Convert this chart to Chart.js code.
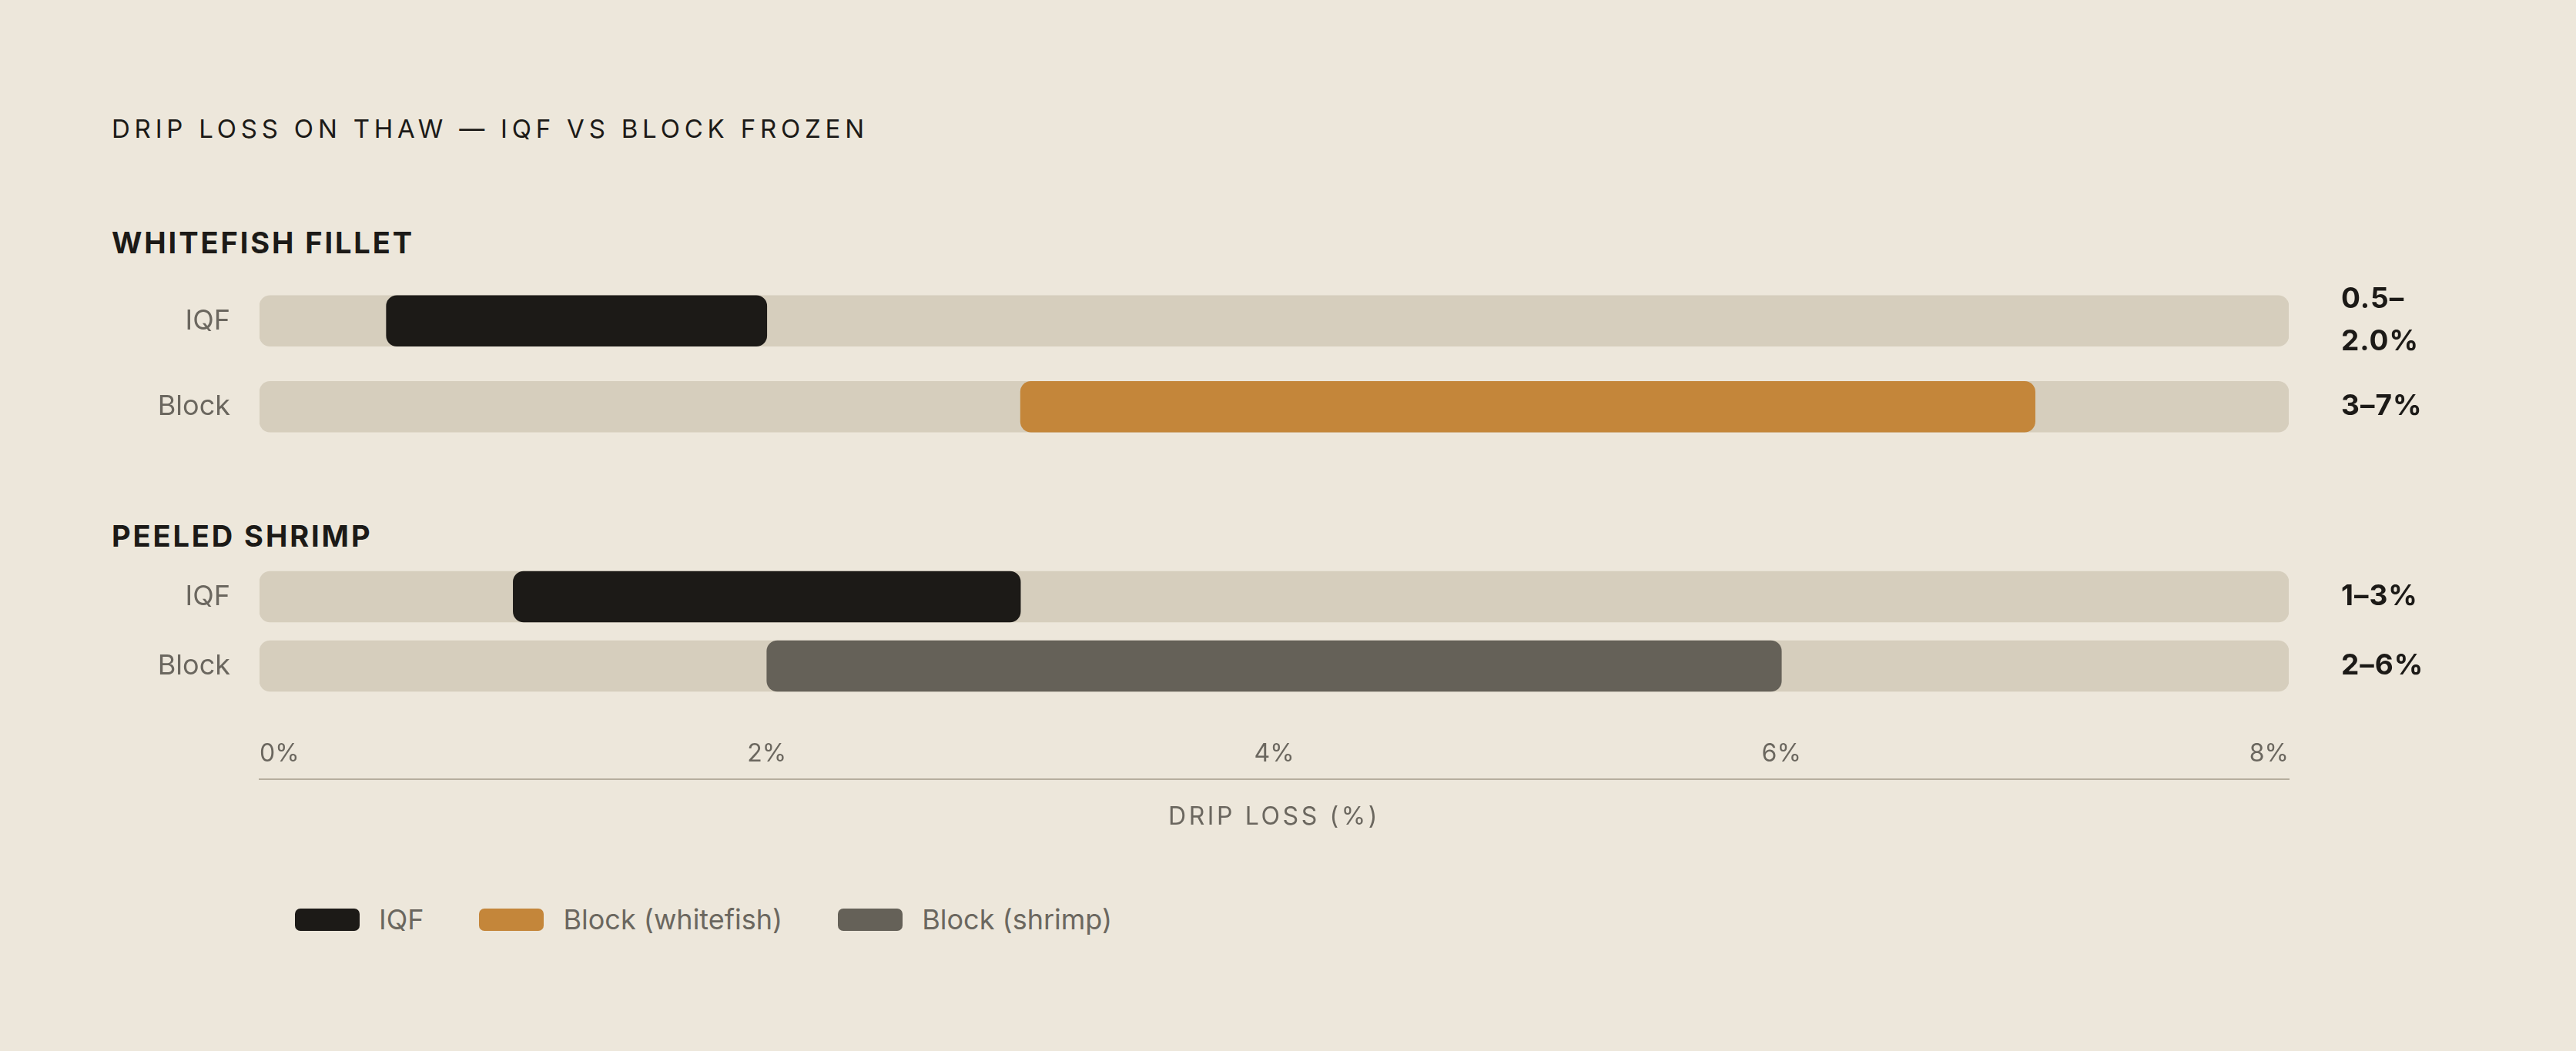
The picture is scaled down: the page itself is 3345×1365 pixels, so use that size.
<!DOCTYPE html>
<html>
<head>
<meta charset="utf-8">
<script src="https://cdn.jsdelivr.net/npm/chart.js@4"></script>
<style>
  html, body { margin: 0; padding: 0; background: #ede7db; }
  body { width: 3345px; height: 1365px; position: relative; overflow: hidden; font-family: 'Inter', 'DejaVu Sans', sans-serif; }
  .txt { position: absolute; white-space: nowrap; line-height: 1; }
  #title { left: 145px; top: 151px; font-size: 33px; letter-spacing: 5.8px; color: #1c1a17; }
  .group { left: 145px; font-size: 38px; font-weight: 700; letter-spacing: 2.9px; color: #1c1a17; }
  #axisTitle { left: 337px; width: 2635px; top: 1044px; text-align: center; font-size: 32px; letter-spacing: 3.6px; color: #6b675f; }
  canvas { position: absolute; left: 0; }
  #legend { position: absolute; left: 383px; top: 1176px; display: flex; align-items: center; gap: 72px; }
  .item { display: flex; align-items: center; gap: 25px; font-size: 36px; color: #6b675f; line-height: 1; }
  .sw { width: 84px; height: 29px; border-radius: 7px; }
</style>
</head>
<body>
<div id="title" class="txt">DRIP LOSS ON THAW — IQF VS BLOCK FROZEN</div>
<div id="g0" class="txt group" style="top:296px"></div>
<div id="g1" class="txt group" style="top:677px"></div>
<canvas id="whitefish" width="3345" height="223" style="top:361px;width:3345px;height:223px"></canvas>
<canvas id="shrimp" width="3345" height="180" style="top:730px;width:3345px;height:180px"></canvas>
<canvas id="axis" width="3345" height="110" style="top:957px;width:3345px;height:110px"></canvas>
<div id="axisTitle" class="txt">DRIP LOSS (%)</div>
<div id="legend"></div>

<script>
// --- Data ---
const groups = ['WHITEFISH FILLET', 'PEELED SHRIMP'];
const rowLabels = ['IQF', 'Block'];
const whitefishLow = [0.5, 3];
const whitefishHigh = [2.0, 7];
const whitefishText = ['0.5–2.0%', '3–7%'];
const shrimpLow = [1, 2];
const shrimpHigh = [3, 6];
const shrimpText = ['1–3%', '2–6%'];
const xTicks = [0, 2, 4, 6, 8];
const xMax = 8;
const legendLabels = ['IQF', 'Block (whitefish)', 'Block (shrimp)'];

// --- Colours ---
const INK = '#1c1a17';
const AMBER = '#c4863a';
const SLATE = '#656158';
const TRACK = '#d6cebd';
const MUTED = '#6b675f';
const FONT = "'Inter', 'DejaVu Sans', sans-serif";

// left edge of track = 337, right edge = 2972
const PLOT_LEFT = 337;
const PLOT_RIGHT_PAD = 3345 - 2972;

// Helper: set text
function set(id, value) {
    const el = document.getElementById(id);
    if (el) el.textContent = value;
}

set('g0', groups[0]);
set('g1', groups[1]);

// Range labels on the right, wrapped after the dash when too wide
const rangeLabels = {
    id: 'rangeLabels',
    afterDatasetsDraw(chart, args, opts) {
        const ctx = chart.ctx;
        const meta = chart.getDatasetMeta(0);
        ctx.save();
        ctx.font = `700 37px ${FONT}`;
        ctx.letterSpacing = '1px';
        ctx.fillStyle = INK;
        ctx.textBaseline = 'middle';
        ctx.textAlign = 'left';
        meta.data.forEach((bar, i) => {
            const text = opts.texts[i];
            let lines = [text];
            if (ctx.measureText(text).width > 140) {
                const k = text.indexOf('–') + 1;
                lines = [text.slice(0, k), text.slice(k)];
            }
            const lh = 55;
            const y0 = bar.y - (lines.length - 1) * lh / 2;
            lines.forEach((ln, j) => ctx.fillText(ln, 3040, y0 + j * lh));
        });
        ctx.restore();
    }
};

function rangeChart(id, lows, highs, colors, texts) {
    return new Chart(document.getElementById(id), {
        type: 'bar',
        data: {
            labels: rowLabels,
            datasets: [
                {
                    data: lows.map((v, i) => [v, highs[i]]),
                    backgroundColor: colors,
                    order: 1
                },
                {
                    data: rowLabels.map(() => [0, xMax]),
                    backgroundColor: TRACK,
                    order: 2
                }
            ]
        },
        options: {
            indexAxis: 'y',
            responsive: false,
            maintainAspectRatio: false,
            animation: false,
            devicePixelRatio: 1,
            layout: { padding: { left: 0, right: PLOT_RIGHT_PAD, top: 0, bottom: 0 } },
            datasets: {
                bar: { grouped: false, barThickness: 66, borderRadius: 14, borderSkipped: false }
            },
            plugins: {
                legend: { display: false },
                tooltip: { enabled: false },
                rangeLabels: { texts: texts }
            },
            scales: {
                x: { display: false, min: 0, max: xMax },
                y: {
                    grid: { display: false, drawTicks: false },
                    border: { display: false },
                    ticks: { padding: 38, color: MUTED, font: { family: FONT, size: 36 } },
                    afterFit: (s) => { s.width = PLOT_LEFT; s.paddingTop = 0; s.paddingBottom = 0; }
                }
            }
        },
        plugins: [rangeLabels]
    });
}

rangeChart('whitefish', whitefishLow, whitefishHigh, [INK, AMBER], whitefishText);
rangeChart('shrimp', shrimpLow, shrimpHigh, [INK, SLATE], shrimpText);

// Axis: labels sit above the base line
new Chart(document.getElementById('axis'), {
    type: 'scatter',
    data: { datasets: [{ data: [] }] },
    options: {
        responsive: false,
        maintainAspectRatio: false,
        animation: false,
        devicePixelRatio: 1,
        layout: { padding: { left: PLOT_LEFT, right: PLOT_RIGHT_PAD, top: 0, bottom: 0 } },
        plugins: { legend: { display: false }, tooltip: { enabled: false } },
        scales: {
            x: {
                type: 'linear',
                position: 'top',
                min: 0,
                max: xMax,
                afterBuildTicks: (s) => { s.ticks = xTicks.map(v => ({ value: v })); },
                grid: { display: false, drawTicks: false },
                border: { display: true, color: '#b6ae9e', width: 2 },
                ticks: {
                    align: 'inner',
                    padding: 13,
                    color: MUTED,
                    font: { family: FONT, size: 32 },
                    callback: (v) => v + '%'
                }
            },
            y: { display: false }
        }
    }
});

// Legend
const legendColors = [INK, AMBER, SLATE];
const legend = document.getElementById('legend');
legendLabels.forEach((name, i) => {
    const item = document.createElement('div');
    item.className = 'item';
    const sw = document.createElement('div');
    sw.className = 'sw';
    sw.style.background = legendColors[i];
    const lbl = document.createElement('span');
    lbl.textContent = name;
    item.appendChild(sw);
    item.appendChild(lbl);
    legend.appendChild(item);
});
</script>
</body>
</html>
